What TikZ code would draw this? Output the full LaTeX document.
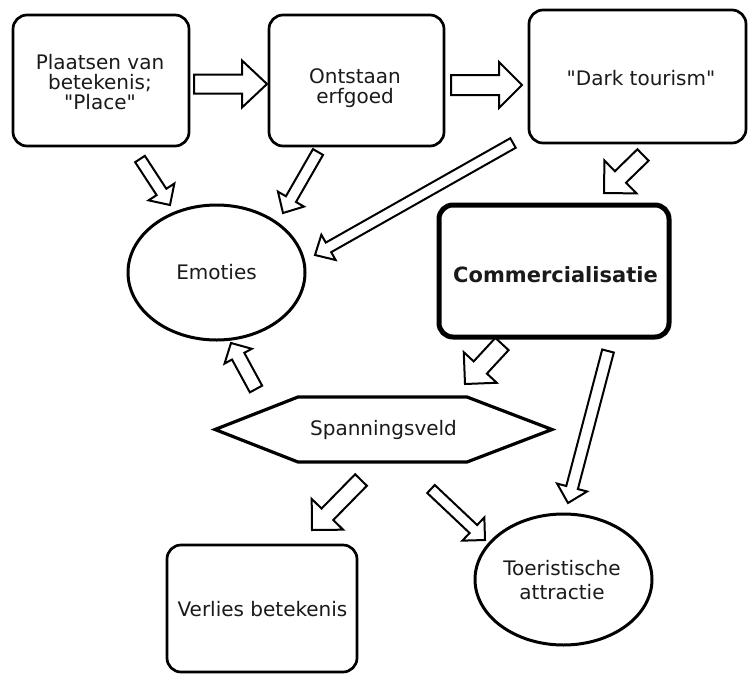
\documentclass[tikz,border=0pt]{standalone}
\usepackage{fontspec}
\setmainfont{DejaVu Sans}[Ligatures=TeXOff]
\usetikzlibrary{calc,shapes.geometric}
\definecolor{txtc}{HTML}{1A1A1A}
\newcommand{\blockarrow}[5]{%
  \path ($(#2)!#5pt!(#1)$) coordinate (hb);
  \draw[barrow] ($(#1)!#3pt!90:(#2)$) -- ($(hb)!#3pt!90:(#2)$) -- ($(hb)!#4pt!90:(#2)$) -- (#2)
     -- ($(hb)!#4pt!-90:(#2)$) -- ($(hb)!#3pt!-90:(#2)$) -- ($(#1)!#3pt!-90:(#2)$) -- cycle;
}
\begin{document}
\begin{tikzpicture}[x=1pt,y=-1pt,
  box/.style={draw=black, line width=2.7pt, rounded corners=14pt, inner sep=0pt},
  oval/.style={draw=black, ellipse, line width=3pt, inner sep=0pt},
  txt/.style={text=txtc, font=\fontsize{20}{20}\selectfont, align=center, inner sep=0pt},
  barrow/.style={draw=black, line width=2pt, fill=white, line join=miter}]
\fill[white] (0,0) rectangle (748,673);
\useasboundingbox (0,0) rectangle (748,673);

% boxes
\node[box, minimum width=176pt, minimum height=131pt] (plaats) at (101,80.5) {};
\node[box, minimum width=175pt, minimum height=131pt] (ontstaan) at (356.5,80.5) {};
\node[box, minimum width=217pt, minimum height=133pt] (dark) at (637.5,76.5) {};
\node[oval, minimum width=177pt, minimum height=135pt] (emoties) at (216.5,272.5) {};
\node[box, line width=5pt, minimum width=230pt, minimum height=132pt] (comm) at (554,271) {};
\node[box, minimum width=190pt, minimum height=127pt] (verlies) at (262,608.5) {};
\node[oval, minimum width=177pt, minimum height=131pt] (toer) at (563.5,579.5) {};
\node[inner sep=0pt] (span) at (383.5,429.5) {};
\draw[line width=3.2pt, line join=miter] (215,429.5) -- (298,397) -- (467,397) -- (552,429.5) -- (467,462) -- (298,462) -- cycle;

% texts
\node[txt] (plaatsT) at (100,82) {Plaatsen van\\betekenis;\\"Place"};
\node[txt] (ontstaanT) at (355,88) {Ontstaan\\erfgoed};
\node[txt] (darkT) at (641,78) {"Dark tourism"};
\node[txt] (emotiesT) at (emoties.center) {Emoties};
\node[txt, font=\bfseries\fontsize{21}{24}\selectfont] (commT) at (555.5,275) {Commercialisatie};
\node[txt] at (span.center) {Spanningsveld};
\node[txt] (verliesT) at (262.5,609) {Verlies betekenis};
\node[txt, font=\fontsize{20}{24}\selectfont] (toerT) at (562,580) {Toeristische\\attractie};

% arrow end points
\coordinate (a1s) at (194,84);   \coordinate (a1e) at (267,84);
\coordinate (a2s) at (451,85);   \coordinate (a2e) at (522,85);
\coordinate (a3s) at (140,159);  \coordinate (a3e) at (170,205);
\coordinate (a4s) at (318,152);  \coordinate (a4e) at (283,213);
\coordinate (a5s) at (513,143);  \coordinate (a5e) at (315,255);
\coordinate (a6s) at (643,155);  \coordinate (a6e) at (604,193);
\coordinate (a7s) at (502,344);  \coordinate (a7e) at (465,384);
\coordinate (a8s) at (361,480);  \coordinate (a8e) at (312,530);
\coordinate (a9s) at (431,489);  \coordinate (a9e) at (485,540);
\coordinate (a10s) at (256,389); \coordinate (a10e) at (231,343);
\coordinate (a11s) at (608,351); \coordinate (a11e) at (568,503);

\blockarrow{a1s}{a1e}{9.5}{23.5}{25}
\blockarrow{a2s}{a2e}{10}{23}{23}
\blockarrow{a3s}{a3e}{5.8}{15.4}{15.6}
\blockarrow{a4s}{a4e}{5.8}{15}{16}
\blockarrow{a5s}{a5e}{5.5}{14.5}{15.5}
\blockarrow{a6s}{a6e}{8}{23}{23}
\blockarrow{a7s}{a7e}{9}{22.5}{22.5}
\blockarrow{a8s}{a8e}{8.2}{22}{22}
\blockarrow{a9s}{a9e}{5.5}{16}{16}
\blockarrow{a10s}{a10e}{7}{15.5}{15}
\blockarrow{a11s}{a11e}{6}{15.5}{16}
\end{tikzpicture}
\end{document}
